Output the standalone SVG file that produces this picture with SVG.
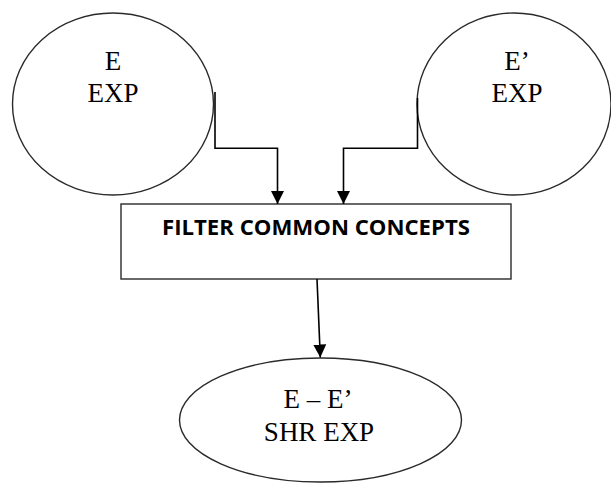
<svg xmlns="http://www.w3.org/2000/svg" width="611" height="483" viewBox="0 0 611 483">
  <style>
    .shape { fill: #ffffff; stroke: #2a2a2a; stroke-width: 1.4; }
    .label { font-family: "Liberation Serif", "Times New Roman", serif; font-size: 27px; fill: #000000; text-anchor: middle; }
    .title { font-family: "Open Sans", "Liberation Sans", sans-serif; font-weight: bold; font-size: 20.5px; fill: #000000; }
    .wire { fill: none; stroke: #000000; stroke-width: 1.6; }
  </style>
  <defs>
    <marker id="arrow" markerUnits="userSpaceOnUse" markerWidth="14" markerHeight="14" viewBox="0 0 14 14" refX="13" refY="7" orient="auto">
      <path d="M0,0.5 L13,7 L0,13.5 Z" fill="#000000"/>
    </marker>
  </defs>

  <rect width="611" height="483" fill="#ffffff"/>

  <!-- source expertise E -->
  <g id="node-e">
    <ellipse class="shape" cx="113" cy="104" rx="100.5" ry="91"/>
    <text class="label" x="113" y="69.5">E</text>
    <text class="label" x="113" y="101.5">EXP</text>
  </g>

  <!-- source expertise E' -->
  <g id="node-e-prime">
    <ellipse class="shape" cx="514" cy="104" rx="97" ry="91"/>
    <text class="label" x="517" y="69.5">E’</text>
    <text class="label" x="517" y="101.5">EXP</text>
  </g>

  <!-- filtering step -->
  <g id="node-filter">
    <rect class="shape" x="121" y="204" width="390" height="75"/>
    <text class="title" x="162" y="234.5" textLength="308" lengthAdjust="spacingAndGlyphs">FILTER COMMON CONCEPTS</text>
  </g>

  <!-- shared expertise result -->
  <g id="node-shared">
    <ellipse class="shape" cx="320.5" cy="420" rx="141" ry="62"/>
    <text class="label" x="318" y="407.5">E – E’</text>
    <text class="label" x="319" y="440.5">SHR EXP</text>
  </g>

  <g id="connectors">
    <path class="wire" d="M215,92 V148.3 H277.5 V204" marker-end="url(#arrow)"/>
    <path class="wire" d="M417.5,98 V148.3 H343.5 V204" marker-end="url(#arrow)"/>
    <path class="wire" d="M317,279 L320.3,357.5" marker-end="url(#arrow)"/>
  </g>
</svg>
